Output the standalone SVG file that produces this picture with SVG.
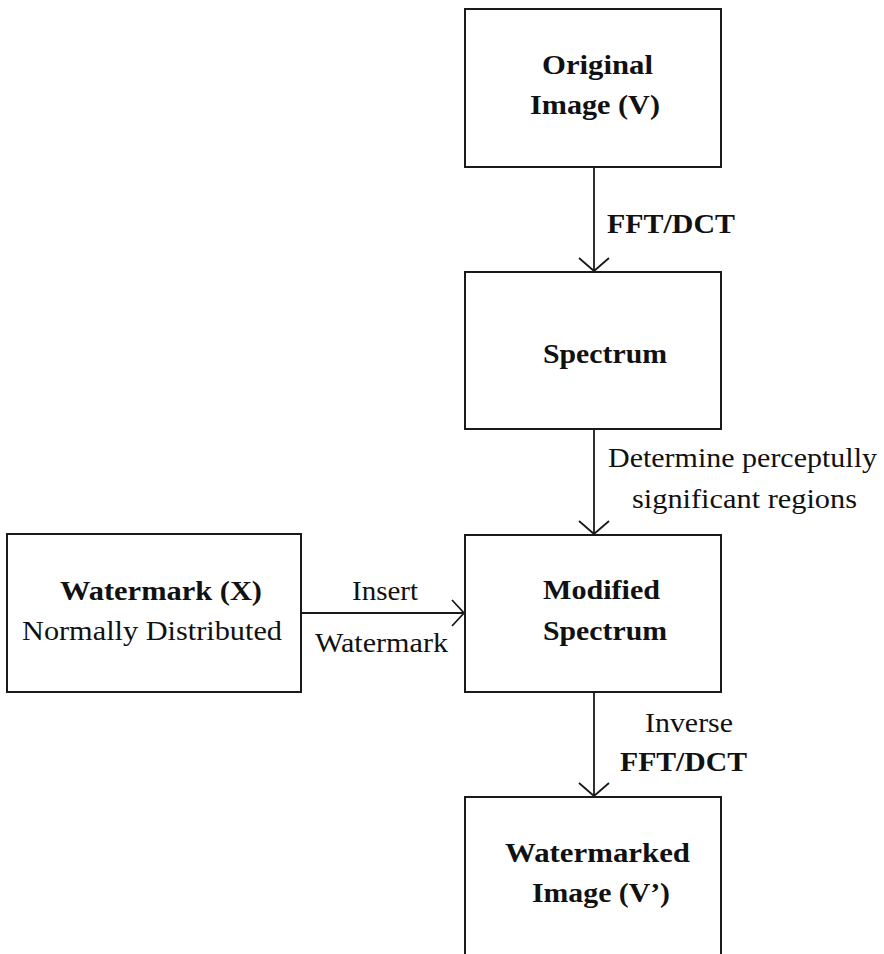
<svg xmlns="http://www.w3.org/2000/svg" width="884" height="954" viewBox="0 0 884 954">
<style>
.box{fill:#fff;stroke:#1a1a1a;stroke-width:2}
.ln{fill:none;stroke:#1a1a1a;stroke-width:1.8}
text{font-family:"Liberation Serif","Times New Roman",serif;font-size:28px;fill:#111}
.b{font-weight:bold}
</style>
<rect width="884" height="954" fill="#fff"/>
<g id="connectors">
<path class="ln" d="M594 167V271M579 258L594 271L609 258"/>
<path class="ln" d="M594 430V534M579 521L594 534L609 521"/>
<path class="ln" d="M594 692V796M579 783L594 796L609 783"/>
<path class="ln" d="M301 613H464M452 600L464 613L452 626"/>
<text x="607" y="233" class="b" textLength="128" lengthAdjust="spacingAndGlyphs">FFT/DCT</text>
<text x="608" y="467" textLength="269" lengthAdjust="spacingAndGlyphs">Determine perceptully</text>
<text x="632" y="508" textLength="225" lengthAdjust="spacingAndGlyphs">significant regions</text>
<text x="352" y="600" textLength="66" lengthAdjust="spacingAndGlyphs">Insert</text>
<text x="315" y="652" textLength="133" lengthAdjust="spacingAndGlyphs">Watermark</text>
<text x="645" y="732" textLength="88" lengthAdjust="spacingAndGlyphs">Inverse</text>
<text x="620" y="771" class="b" textLength="127" lengthAdjust="spacingAndGlyphs">FFT/DCT</text>
</g>
<g id="original">
<rect class="box" x="465" y="9" width="256" height="158"/>
<text x="542" y="74" class="b" textLength="111" lengthAdjust="spacingAndGlyphs">Original</text>
<text x="530" y="114" class="b" textLength="130" lengthAdjust="spacingAndGlyphs">Image (V)</text>
</g>
<g id="spectrum">
<rect class="box" x="465" y="272" width="256" height="157"/>
<text x="543" y="363" class="b" textLength="124" lengthAdjust="spacingAndGlyphs">Spectrum</text>
</g>
<g id="modified">
<rect class="box" x="465" y="535" width="256" height="157"/>
<text x="543" y="599" class="b" textLength="117" lengthAdjust="spacingAndGlyphs">Modified</text>
<text x="543" y="640" class="b" textLength="124" lengthAdjust="spacingAndGlyphs">Spectrum</text>
</g>
<g id="watermark">
<rect class="box" x="7" y="534" width="294" height="158"/>
<text x="60" y="600" class="b" textLength="202" lengthAdjust="spacingAndGlyphs">Watermark (X)</text>
<text x="22" y="640" textLength="260" lengthAdjust="spacingAndGlyphs">Normally Distributed</text>
</g>
<g id="watermarked">
<rect class="box" x="465" y="797" width="256" height="165"/>
<text x="505" y="862" class="b" textLength="185" lengthAdjust="spacingAndGlyphs">Watermarked</text>
<text x="532" y="902" class="b" textLength="138" lengthAdjust="spacingAndGlyphs">Image (V’)</text>
</g>
</svg>
